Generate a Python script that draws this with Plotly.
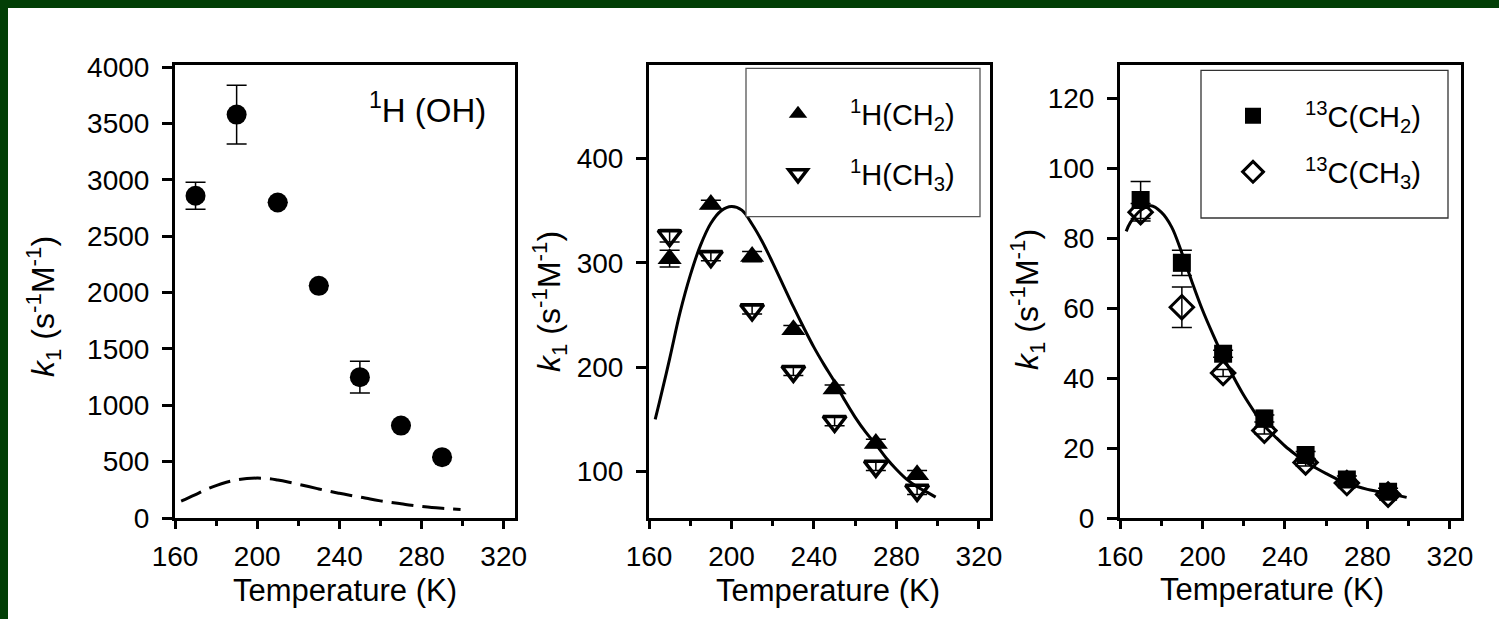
import plotly.graph_objects as go

# ---------------- data ----------------
temps = [170, 190, 210, 230, 250, 270, 290]

k_oh = [2860, 3580, 2800, 2060, 1250, 820, 540]
k_oh_err = [120, 260, 0, 0, 140, 0, 0]

k_h_ch2 = [304, 356, 306, 236, 179, 127, 97]
k_h_ch2_err = [8, 4, 5, 4, 4, 4, 4]
k_h_ch3 = [326, 306, 255, 196, 148, 105, 82]
k_h_ch3_err = [6, 4, 4, 4, 4, 4, 4]

k_c_ch2 = [91.0, 73.0, 47.0, 28.5, 18.0, 11.0, 7.5]
k_c_ch2_err = [5.3, 3.6, 1.0, 1.0, 1.0, 1.0, 1.0]
k_c_ch3 = [87.5, 60.3, 41.5, 25.0, 15.9, 10.0, 6.7]
k_c_ch3_err = [2.5, 5.8, 1.0, 1.0, 1.0, 1.0, 1.0]

fit_t = [163, 165, 170, 175, 180, 185, 190, 195, 200, 205, 210, 215, 220, 225, 230,
         235, 240, 245, 250, 255, 260, 265, 270, 275, 280, 285, 290, 295, 299]
fit_h = [150, 166, 208, 252, 288, 317, 338, 350, 354, 350.5, 337, 320, 300, 279, 258,
         238, 219, 202, 186, 168, 152, 138, 126, 113, 102, 92.5, 85.5, 80, 75.5]
fit_c = [82, 84.5, 88, 89.3, 87.5, 83.3, 75.8, 67.4, 59.5, 52.6, 46.2, 40.4, 35.1, 30.5, 26.3,
         23.4, 20.6, 18.2, 16.0, 14.3, 12.7, 11.2, 10.0, 9.0, 8.2, 7.6, 7.0, 6.4, 5.9]

x_ticks = [160, 200, 240, 280, 320]

# ---------------- layout helpers ----------------
W, H = 1499, 619
FONT = "Liberation Sans, Arial, sans-serif"


def px(x):
    return x / W


def py(y):
    return (H - y) / H


def err(arr):
    return dict(type="data", array=arr, visible=True, color="black",
                thickness=1.5, width=10)


fig = go.Figure()

# panel 1
fig.add_trace(go.Scatter(x=fit_t, y=fit_h, mode="lines", line_shape="spline",
                         line=dict(color="black", width=3, dash="22px,9px"),
                         xaxis="x", yaxis="y", showlegend=False, hoverinfo="skip"))
fig.add_trace(go.Scatter(x=temps, y=k_oh, mode="markers", error_y=err(k_oh_err),
                         marker=dict(symbol="circle", size=20, color="black"),
                         xaxis="x", yaxis="y", showlegend=False))

# panel 2
fig.add_trace(go.Scatter(x=fit_t, y=fit_h, mode="lines", line_shape="spline",
                         line=dict(color="black", width=3),
                         xaxis="x2", yaxis="y2", showlegend=False, hoverinfo="skip"))
fig.add_trace(go.Scatter(x=temps, y=k_h_ch2, mode="markers", error_y=err(k_h_ch2_err),
                         marker=dict(symbol="triangle-up", size=21, color="black"),
                         name="<sup>1</sup>H(CH<sub>2</sub>)",
                         xaxis="x2", yaxis="y2", legend="legend"))
fig.add_trace(go.Scatter(x=temps, y=k_h_ch3, mode="markers", error_y=err(k_h_ch3_err),
                         marker=dict(symbol="triangle-down-open", size=20, color="black",
                                     line=dict(width=3.5, color="black")),
                         name="<sup>1</sup>H(CH<sub>3</sub>)",
                         xaxis="x2", yaxis="y2", legend="legend2"))

# panel 3
fig.add_trace(go.Scatter(x=fit_t, y=fit_c, mode="lines", line_shape="spline",
                         line=dict(color="black", width=3),
                         xaxis="x3", yaxis="y3", showlegend=False, hoverinfo="skip"))
fig.add_trace(go.Scatter(x=temps, y=k_c_ch2, mode="markers", error_y=err(k_c_ch2_err),
                         marker=dict(symbol="square", size=18, color="black"),
                         name="<sup>13</sup>C(CH<sub>2</sub>)",
                         xaxis="x3", yaxis="y3", legend="legend3"))
fig.add_trace(go.Scatter(x=temps, y=k_c_ch3, mode="markers", error_y=err(k_c_ch3_err),
                         marker=dict(symbol="diamond-open", size=18, color="black",
                                     line=dict(width=3, color="black")),
                         name="<sup>13</sup>C(CH<sub>3</sub>)",
                         xaxis="x3", yaxis="y3", legend="legend4"))

tickfont = dict(family=FONT, size=28, color="black")


def xaxis(dom, anchor):
    return dict(domain=dom, anchor=anchor, range=[160, 325.5], tickmode="array",
                tickvals=x_ticks, showline=True, linecolor="black", linewidth=3,
                mirror=True, ticks="outside", ticklen=8, tickwidth=3, tickcolor="black",
                minor=dict(dtick=20, tick0=160, ticks="outside", ticklen=5, tickwidth=3,
                           tickcolor="black"),
                showgrid=False, zeroline=False, tickfont=tickfont, fixedrange=True,
                automargin=False, ticklabelstandoff=3)


def yaxis(dom, anchor, rng, dtick, tick0):
    return dict(domain=dom, anchor=anchor, range=rng, tickmode="linear", dtick=dtick,
                tick0=tick0, showline=True, linecolor="black", linewidth=3, mirror=True,
                ticks="outside", ticklen=10, tickwidth=3, tickcolor="black",
                showgrid=False, zeroline=False, tickfont=tickfont, fixedrange=True,
                automargin=False, ticklabelstandoff=7)


ydom = [py(518), py(65)]

leg_common = dict(bgcolor="rgba(0,0,0,0)", borderwidth=0, itemwidth=94,
                  xanchor="left", yanchor="middle",
                  font=dict(family=FONT, size=29, color="black"))

ytitle = "<i>k</i><sub>1</sub> (s<sup>-1</sup>M<sup>-1</sup>)"
title_font = dict(family=FONT, size=31, color="black")
ytitle_font = dict(family=FONT, size=32, color="black")

annotations = [
    dict(text="<sup>1</sup>H (OH)", x=px(488), y=py(108), xref="paper", yref="paper",
         xanchor="right", yanchor="middle", showarrow=False,
         font=dict(family=FONT, size=33, color="black")),
    dict(text="Temperature (K)", x=px(345), y=py(590), xref="paper", yref="paper",
         xanchor="center", yanchor="middle", showarrow=False, font=title_font),
    dict(text="Temperature (K)", x=px(828), y=py(590), xref="paper", yref="paper",
         xanchor="center", yanchor="middle", showarrow=False, font=title_font),
    dict(text="Temperature (K)", x=px(1272), y=py(589), xref="paper", yref="paper",
         xanchor="center", yanchor="middle", showarrow=False, font=title_font),
    dict(text=ytitle, x=px(44), y=py(307), xref="paper", yref="paper", textangle=-90,
         xanchor="center", yanchor="middle", showarrow=False, font=ytitle_font),
    dict(text=ytitle, x=px(549), y=py(302), xref="paper", yref="paper", textangle=-90,
         xanchor="center", yanchor="middle", showarrow=False, font=ytitle_font),
    dict(text=ytitle, x=px(1028), y=py(300), xref="paper", yref="paper", textangle=-90,
         xanchor="center", yanchor="middle", showarrow=False, font=ytitle_font),
]

shapes = [
    dict(type="rect", xref="paper", yref="paper", x0=px(8), x1=1.01, y0=-0.01, y1=py(8),
         fillcolor="white", line=dict(width=0), layer="below"),
    dict(type="rect", xref="paper", yref="paper", x0=px(746), x1=px(980),
         y0=py(216.6), y1=py(68.4), fillcolor="white",
         line=dict(color="#555555", width=1.3), layer="above"),
    dict(type="rect", xref="paper", yref="paper", x0=px(1201), x1=px(1448),
         y0=py(218), y1=py(70.4), fillcolor="white",
         line=dict(color="#333333", width=1.3), layer="above"),
]

fig.update_layout(
    width=W, height=H, margin=dict(l=0, r=0, t=0, b=0, pad=0, autoexpand=False),
    paper_bgcolor="#023f06", plot_bgcolor="white",
    xaxis=xaxis([px(175), px(515)], "y"),
    xaxis2=xaxis([px(649), px(990.3)], "y2"),
    xaxis3=xaxis([px(1120), px(1461.3)], "y3"),
    yaxis=yaxis(ydom, "x", [0, 4020], 500, 0),
    yaxis2=yaxis(ydom, "x2", [55.5, 489.6], 100, 0),
    yaxis3=yaxis(ydom, "x3", [0, 129.6], 20, 0),
    legend=dict(x=px(746), y=py(114), **leg_common),
    legend2=dict(x=px(746), y=py(174), **leg_common),
    legend3=dict(x=px(1201), y=py(116), **leg_common),
    legend4=dict(x=px(1201), y=py(172), **leg_common),
    annotations=annotations,
    shapes=shapes,
    font=dict(family=FONT, color="black"),
)

fig.write_html("out.html")
